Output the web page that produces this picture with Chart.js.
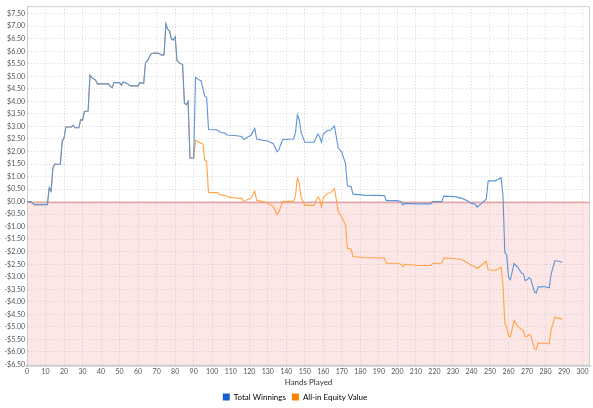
<!DOCTYPE html>
<html>
<head>
<meta charset="utf-8">
<script src="https://cdn.jsdelivr.net/npm/chart.js@4/dist/chart.umd.min.js"></script>
<style>
  html, body { margin: 0; padding: 0; background: #fff; }
  #wrap { width: 593px; height: 408px; }
</style>
</head>
<body>
<div id="wrap"><canvas id="grafica"></canvas></div>
<script>
// Total Winnings (hand, $)
const winHands = [0, 2, 4, 11, 12, 13, 14, 15, 17, 18, 19, 20, 21, 24, 25, 26, 28, 29, 30, 31, 33, 34, 35, 37, 38, 44, 45, 46, 47, 50, 51, 52, 54, 56, 60, 61, 63, 64, 65, 67, 69, 71, 73, 74, 75, 76, 77, 78, 79, 80, 81, 83, 84, 85, 86, 87, 88, 90,
  91, 93, 94, 96, 97, 98, 103, 104, 107, 108, 112, 116, 117, 119, 121, 123, 124, 127, 130, 133, 135, 136, 138, 144, 145, 146, 147, 148, 150, 155, 157, 158, 159, 160, 162, 164, 166, 167, 168, 170, 172,
  173, 175, 176, 182, 193, 194, 200, 202, 203, 204, 211, 218, 219, 224, 225, 231, 235, 238, 240, 242, 243, 245, 248, 249, 253, 255, 256, 257,
  258, 259, 260, 261, 263, 265, 267, 268, 269, 270, 271, 272, 274, 275, 276, 277, 279, 282, 283, 285, 287, 289];
const winValues = [0, 0, -0.12, -0.12, 0.55, 0.42, 1.35, 1.5, 1.48, 1.5, 2.4, 2.55, 2.98, 2.98, 3.05, 2.95, 2.95, 3.28, 3.25, 3.6, 3.62, 5.05, 4.95, 4.85, 4.7, 4.7, 4.6, 4.55, 4.75, 4.75, 4.65, 4.78, 4.72, 4.62, 4.62, 4.75, 4.72, 5.55, 5.62, 5.9, 5.93, 5.92, 5.84, 5.86, 7.1, 6.88, 6.8, 6.49, 6.45, 6.58, 5.62, 5.5, 5.48, 3.93, 3.87, 4.0, 1.74, 1.74,
  4.96, 4.85, 4.83, 4.2, 4.17, 2.88, 2.86, 2.78, 2.73, 2.66, 2.64, 2.6, 2.48, 2.57, 2.65, 2.92, 2.5, 2.45, 2.42, 2.31, 1.99, 2.07, 2.48, 2.5, 2.76, 3.47, 3.27, 2.76, 2.37, 2.37, 2.7, 2.6, 2.37, 2.7, 2.83, 2.86, 3.02, 2.6, 2.16, 1.97, 1.51,
  0.63, 0.6, 0.3, 0.26, 0.24, 0.04, 0.04, 0.0, -0.13, -0.07, -0.09, -0.09, 0.0, 0.0, 0.22, 0.2, 0.13, 0.03, -0.07, -0.1, -0.22, -0.1, 0.1, 0.83, 0.83, 0.92, 0.95, 0.26,
  -2.03, -2.13, -3.02, -3.12, -2.46, -2.62, -2.85, -2.88, -3.15, -3.12, -3.04, -3.08, -3.6, -3.64, -3.39, -3.41, -3.39, -3.44, -2.89, -2.36, -2.38, -2.42];

// All-in Equity Value (hand, $)
const eqHands = [0, 2, 4, 11, 12, 13, 14, 15, 17, 18, 19, 20, 21, 24, 25, 26, 28, 29, 30, 31, 33, 34, 35, 37, 38, 44, 45, 46, 47, 50, 51, 52, 54, 56, 60, 61, 63, 64, 65, 67, 69, 71, 73, 74, 75, 76, 77, 78, 79, 80, 81, 83, 84, 85, 86, 87, 88, 90,
  91, 93, 95, 96, 97, 98, 103, 104, 107, 109, 112, 116, 117, 119, 121, 123, 124, 127, 130, 133, 135, 136, 138, 144, 145, 146, 147, 148, 150, 155, 157, 158, 159, 160, 162, 164, 166, 167, 168, 170, 172,
  173, 175, 176, 182, 193, 194, 200, 202, 203, 204, 211, 218, 219, 224, 225, 231, 235, 238, 240, 242, 243, 245, 248, 249, 253, 255, 256, 257,
  258, 259, 260, 261, 263, 265, 267, 268, 269, 270, 271, 272, 274, 275, 276, 277, 279, 282, 283, 285, 287, 289];
const eqValues = [0, 0, -0.12, -0.12, 0.55, 0.42, 1.35, 1.5, 1.48, 1.5, 2.4, 2.55, 2.98, 2.98, 3.05, 2.95, 2.95, 3.28, 3.25, 3.6, 3.62, 5.05, 4.95, 4.85, 4.7, 4.7, 4.6, 4.55, 4.75, 4.75, 4.65, 4.78, 4.72, 4.62, 4.62, 4.75, 4.72, 5.55, 5.62, 5.9, 5.93, 5.92, 5.84, 5.86, 7.1, 6.88, 6.8, 6.49, 6.45, 6.58, 5.62, 5.5, 5.48, 3.93, 3.87, 4.0, 1.74, 1.74,
  2.45, 2.36, 2.3, 1.64, 1.6, 0.37, 0.36, 0.28, 0.25, 0.18, 0.15, 0.13, 0.0, 0.08, 0.15, 0.42, 0.05, 0.01, -0.06, -0.2, -0.52, -0.42, 0.0, 0.02, 0.25, 0.94, 0.73, 0.2, -0.15, -0.15, 0.18, 0.12, -0.2, 0.15, 0.32, 0.36, 0.52, 0.1, -0.39, -0.62, -0.95,
  -1.86, -1.9, -2.19, -2.23, -2.25, -2.46, -2.46, -2.5, -2.6, -2.5, -2.55, -2.55, -2.47, -2.45, -2.25, -2.27, -2.32, -2.45, -2.55, -2.6, -2.67, -2.56, -2.38, -2.72, -2.75, -2.66, -2.62, -3.3,
  -4.88, -5.0, -5.35, -5.4, -4.75, -4.98, -5.1, -5.15, -5.4, -5.38, -5.3, -5.35, -5.87, -5.9, -5.64, -5.66, -5.64, -5.68, -5.11, -4.61, -4.65, -4.69];

const seriesNames = ["Total Winnings", "All-in Equity Value"];
const xTicks = [0, 10, 20, 30, 40, 50, 60, 70, 80, 90, 100, 110, 120, 130, 140, 150, 160, 170, 180, 190, 200, 210, 220, 230, 240, 250, 260, 270, 280, 290, 300];
const yTicks = [-6.5, -6, -5.5, -5, -4.5, -4, -3.5, -3, -2.5, -2, -1.5, -1, -0.5, 0, 0.5, 1, 1.5, 2, 2.5, 3, 3.5, 4, 4.5, 5, 5.5, 6, 6.5, 7, 7.5];

const toPoints = (xs, ys) => xs.map((x, i) => ({ x: x, y: ys[i] }));
const money = v => (v < 0 ? "-$" : "$") + Math.abs(v).toFixed(2);

// fondo rosa bajo cero y linea roja en 0
const zonaNegativa = {
  id: "zonaNegativa",
  beforeDraw(chart) {
    const { ctx, chartArea: a, scales } = chart;
    const y0 = scales.y.getPixelForValue(0);
    ctx.save();
    ctx.fillStyle = "#fde6e6";
    ctx.fillRect(a.left, y0, a.right - a.left, a.bottom - y0);
    ctx.restore();
  },
  beforeDatasetsDraw(chart) {
    const { ctx, chartArea: a, scales } = chart;
    const y0 = Math.round(scales.y.getPixelForValue(0)) + 0.5;
    ctx.save();
    ctx.strokeStyle = "#e3a4a4";
    ctx.lineWidth = 1.5;
    ctx.beginPath();
    ctx.moveTo(a.left, y0);
    ctx.lineTo(a.right, y0);
    ctx.stroke();
    ctx.strokeStyle = "#cfcfcf";
    ctx.lineWidth = 1;
    ctx.strokeRect(a.left + 0.5, a.top + 0.5, a.right - a.left - 1, a.bottom - a.top - 1);
    ctx.restore();
  }
};

const $grafica = document.querySelector("#grafica");

new Chart($grafica, {
  type: "line",
  data: {
    datasets: [
      {
        label: seriesNames[1],
        data: toPoints(eqHands, eqValues),
        borderColor: "#ffa347",
        backgroundColor: "#ff8000",
        borderWidth: 1.1,
        pointRadius: 0,
        tension: 0,
        order: 2
      },
      {
        label: seriesNames[0],
        data: toPoints(winHands, winValues),
        borderColor: "#5b94d9",
        backgroundColor: "#1560c8",
        borderWidth: 1.1,
        pointRadius: 0,
        tension: 0,
        order: 1
      }
    ]
  },
  options: {
    responsive: true,
    maintainAspectRatio: false,
    animation: false,
    layout: { padding: { left: 0, right: 3, top: 1, bottom: -3 } },
    plugins: {
      tooltip: { enabled: false },
      legend: {
        position: "bottom",
        reverse: true,
        labels: {
          boxWidth: 7,
          boxHeight: 7,
          padding: 6,
          color: "#333",
          font: { family: "Lato", size: 8 },
          generateLabels(chart) {
            return chart.data.datasets.map((ds, i) => ({
              text: ds.label,
              fillStyle: ds.backgroundColor,
              strokeStyle: ds.backgroundColor,
              lineWidth: 0,
              datasetIndex: i
            }));
          }
        }
      }
    },
    scales: {
      x: {
        type: "linear",
        min: 0,
        max: 304,
        afterBuildTicks(scale) { scale.ticks = xTicks.map(v => ({ value: v })); },
        afterFit(scale) { scale.height = 21; },
        ticks: {
          color: "#555",
          font: { family: "Lato", size: 7 },
          padding: 2,
          maxRotation: 0,
          autoSkip: false
        },
        grid: {
          color: "rgba(195,195,195,0.8)",
          lineWidth: 0.8,
          drawTicks: false
        },
        border: { color: "#b0b0b0", width: 1.5, dash: [1, 2] },
        title: {
          display: true,
          text: "Hands Played",
          color: "#333",
          font: { family: "Lato", size: 8 },
          padding: { top: 0, bottom: 0 }
        }
      },
      y: {
        type: "linear",
        min: -6.56,
        max: 7.8,
        afterBuildTicks(scale) { scale.ticks = yTicks.map(v => ({ value: v })); },
        afterFit(scale) { scale.width = 27; },
        ticks: {
          color: "#555",
          font: { family: "Lato", size: 7 },
          padding: 2,
          callback: v => money(v)
        },
        grid: {
          color: "rgba(195,195,195,0.8)",
          lineWidth: 0.8,
          drawTicks: false
        },
        border: { color: "#b0b0b0", width: 1, dash: [1, 2] }
      }
    }
  },
  plugins: [zonaNegativa]
});
</script>
</body>
</html>
